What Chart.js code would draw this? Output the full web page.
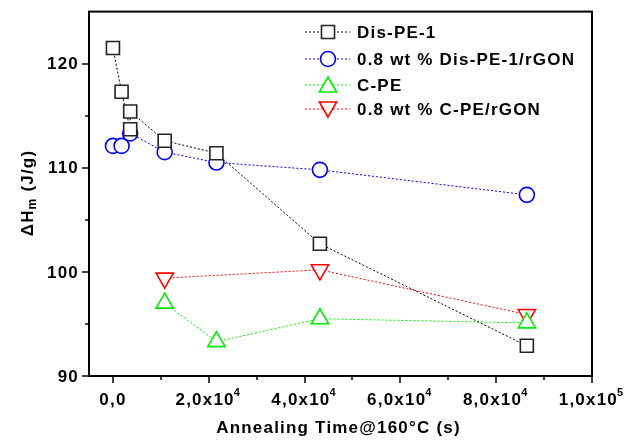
<!DOCTYPE html>
<html>
<head>
<meta charset="utf-8">
<script src="https://cdn.jsdelivr.net/npm/chart.js@4/dist/chart.umd.min.js"></script>
<style>
  html, body { margin: 0; padding: 0; background: #fff; }
  #box { width: 625px; height: 441px; }
</style>
</head>
<body>
<div id="box"><canvas id="myChart"></canvas></div>
<script>
// annealing times (s) and melting enthalpy (J/g)
var disPE1X = [0, 1800, 3600, 3600, 10800, 21600, 43200, 86400];
var disPE1Y = [121.5, 117.3, 113.7, 115.4, 112.6, 111.4, 102.7, 92.9];
var disRgonX = [0, 1800, 3600, 10800, 21600, 43200, 86400];
var disRgonY = [112.1, 112.1, 113.3, 111.5, 110.5, 109.8, 107.4];
var cpeX = [10800, 21600, 43200, 86400];
var cpeY = [97.0, 93.3, 95.5, 95.1];
var cpeRgonX = [10800, 43200, 86400];
var cpeRgonY = [99.4, 100.2, 95.9];

var labels = ['Dis-PE-1', '0.8 wt % Dis-PE-1/rGON', 'C-PE', '0.8 wt % C-PE/rGON'];

var xTicks = [0, 20000, 40000, 60000, 80000, 100000];
var xTickLabels = [['0,0', ''], ['2,0x10', '4'], ['4,0x10', '4'], ['6,0x10', '4'], ['8,0x10', '4'], ['1,0x10', '5']];
var xMinor = [10000, 30000, 50000, 70000, 90000];
var yTicks = [90, 100, 110, 120];
var yMinor = [95, 105, 115];

var FONT = 'bold 17px "Liberation Sans", Arial, sans-serif';

function toPoints(xs, ys) {
    return xs.map(function (x, i) { return {x: x, y: ys[i]}; });
}

function makeSet(label, xs, ys, color, edge, style, radius, rotation) {
    return {
        label: label,
        data: toPoints(xs, ys),
        borderColor: color,
        borderWidth: 1,
        borderDash: [2, 2],
        pointStyle: style,
        pointRadius: radius,
        pointRotation: rotation || 0,
        pointBorderColor: edge,
        pointBorderWidth: 1.6,
        pointBackgroundColor: '#fff',
        fill: false
    };
}

var frame = {
    id: 'frame',
    afterDraw: function (chart) {
        var ctx = chart.ctx, a = chart.chartArea,
            x = chart.scales.x, y = chart.scales.y;

        ctx.save();
        ctx.strokeStyle = '#000';
        ctx.lineWidth = 2;
        ctx.strokeRect(a.left, a.top, a.right - a.left, a.bottom - a.top);

        // tick marks, outward
        ctx.lineWidth = 1.5;
        ctx.beginPath();
        xTicks.forEach(function (v) {
            var px = Math.round(x.getPixelForValue(v));
            ctx.moveTo(px, a.bottom); ctx.lineTo(px, a.bottom + 7);
        });
        xMinor.forEach(function (v) {
            var px = Math.round(x.getPixelForValue(v));
            ctx.moveTo(px, a.bottom); ctx.lineTo(px, a.bottom + 4);
        });
        yTicks.forEach(function (v) {
            var py = Math.round(y.getPixelForValue(v));
            ctx.moveTo(a.left, py); ctx.lineTo(a.left - 7, py);
        });
        yMinor.forEach(function (v) {
            var py = Math.round(y.getPixelForValue(v));
            ctx.moveTo(a.left, py); ctx.lineTo(a.left - 4, py);
        });
        ctx.stroke();

        ctx.fillStyle = '#000';
        ctx.letterSpacing = '1.2px';

        // y tick labels
        ctx.font = FONT;
        ctx.textAlign = 'right';
        ctx.textBaseline = 'middle';
        yTicks.forEach(function (v) {
            ctx.fillText(String(v), a.left - 10, y.getPixelForValue(v) + 1);
        });

        // x tick labels with exponent
        ctx.textAlign = 'left';
        ctx.textBaseline = 'alphabetic';
        xTicks.forEach(function (v, i) {
            var main = xTickLabels[i][0], sup = xTickLabels[i][1];
            ctx.font = FONT;
            var w1 = ctx.measureText(main).width;
            ctx.font = 'bold 11px "Liberation Sans", Arial, sans-serif';
            var w2 = sup ? ctx.measureText(sup).width : 0;
            var left = x.getPixelForValue(v) - (w1 + w2) / 2;
            ctx.font = FONT;
            ctx.fillText(main, left, a.bottom + 29);
            if (sup) {
                ctx.font = 'bold 11px "Liberation Sans", Arial, sans-serif';
                ctx.fillText(sup, left + w1 - 1, a.bottom + 20);
            }
        });

        // x title
        ctx.font = FONT;
        ctx.textAlign = 'center';
        ctx.fillText('Annealing Time@160\u00B0C (s)', (a.left + a.right) / 2 - 2, 433);

        // y title: ΔHm (J/g)
        ctx.translate(28, 193);
        ctx.rotate(-Math.PI / 2);
        ctx.textAlign = 'left';
        ctx.textBaseline = 'middle';
        var p1 = '\u0394H', p2 = 'm', p3 = ' (J/g)';
        ctx.font = FONT;
        var w1 = ctx.measureText(p1).width, w3 = ctx.measureText(p3).width;
        ctx.font = 'bold 12px "Liberation Sans", Arial, sans-serif';
        var w2 = ctx.measureText(p2).width;
        var sx = -(w1 + w2 + w3) / 2;
        ctx.font = FONT;
        ctx.fillText(p1, sx, 0);
        ctx.font = 'bold 12px "Liberation Sans", Arial, sans-serif';
        ctx.fillText(p2, sx + w1, 5);
        ctx.font = FONT;
        ctx.fillText(p3, sx + w1 + w2, 0);
        ctx.restore();

        // legend
        var rows = [32, 59, 85, 109];
        ctx.save();
        chart.data.datasets.forEach(function (ds, i) {
            var ry = rows[i];
            ctx.strokeStyle = ds.borderColor;
            ctx.lineWidth = 1;
            ctx.setLineDash([2, 2]);
            ctx.beginPath();
            ctx.moveTo(305, ry); ctx.lineTo(350, ry);
            ctx.stroke();
            ctx.setLineDash([]);
            ctx.strokeStyle = ds.pointBorderColor;
            ctx.fillStyle = '#fff';
            ctx.lineWidth = ds.pointBorderWidth;
            Chart.helpers.drawPoint(ctx, {
                pointStyle: ds.pointStyle,
                radius: ds.pointRadius,
                rotation: ds.pointRotation,
                borderWidth: ds.pointBorderWidth
            }, 328, ry + (ds.pointStyle === 'triangle' ? (ds.pointRotation ? -2 : 2) : 0));
            ctx.fillStyle = '#000';
            ctx.letterSpacing = '1.2px';
            ctx.font = FONT;
            ctx.textAlign = 'left';
            ctx.textBaseline = 'middle';
            ctx.fillText(ds.label, 357, ry + 1);
        });
        ctx.restore();
    }
};

var chart = new Chart(document.getElementById('myChart'), {
    type: 'line',
    data: {
        datasets: [
            makeSet(labels[0], disPE1X, disPE1Y, '#000', '#222', 'rect', 9.2),
            makeSet(labels[1], disRgonX, disRgonY, '#0000ff', '#0000ff', 'circle', 7.5),
            makeSet(labels[2], cpeX, cpeY, '#00ee00', '#00ee00', 'triangle', 10),
            makeSet(labels[3], cpeRgonX, cpeRgonY, '#ff0000', '#ff0000', 'triangle', 10, 180)
        ]
    },
    options: {
        responsive: true,
        maintainAspectRatio: false,
        animation: false,
        devicePixelRatio: 1,
        layout: {padding: {left: 89, top: 10, right: 33, bottom: 65}},
        plugins: {legend: {display: false}, tooltip: {enabled: false}},
        scales: {
            x: {type: 'linear', min: -5000, max: 100000, display: false},
            y: {type: 'linear', min: 90, max: 125, display: false}
        }
    },
    plugins: [frame]
});
</script>
</body>
</html>
